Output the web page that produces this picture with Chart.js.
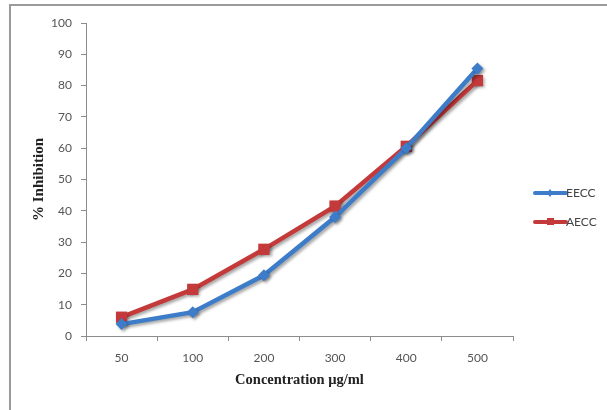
<!DOCTYPE html>
<html>
<head>
<meta charset="utf-8">
<script src="https://cdn.jsdelivr.net/npm/chart.js@4"></script>
<style>
html,body{margin:0;padding:0;background:#fff;}
#wrap{position:relative;width:607px;height:410px;}
</style>
</head>
<body>
<div id="wrap"><canvas id="c" width="607" height="410"></canvas></div>
<script>
const categories = ['50', '100', '200', '300', '400', '500'];
const seriesNames = ['EECC', 'AECC'];
const eeccValues = [3.8, 7.6, 19.4, 38.0, 60.0, 85.5];
const aeccValues = [6.0, 14.9, 27.7, 41.5, 60.6, 81.6];
const yTicks = [0, 10, 20, 30, 40, 50, 60, 70, 80, 90, 100];
const xTitle = 'Concentration µg/ml';
const yTitle = '% Inhibition';

const colors = ['#3d7cc9', '#c4393a'];

const shadowPlugin = {
  id: 'shadow',
  beforeDatasetsDraw(chart) {
    const ctx = chart.ctx;
    ctx.save();
    ctx.shadowColor = 'rgba(0,0,0,0.35)';
    ctx.shadowBlur = 3;
    ctx.shadowOffsetX = 2;
    ctx.shadowOffsetY = 2;
  },
  afterDatasetsDraw(chart) {
    chart.ctx.restore();
  }
};

const framePlugin = {
  id: 'frame',
  beforeDraw(chart) {
    const ctx = chart.ctx;
    ctx.save();
    ctx.fillStyle = '#fff';
    ctx.fillRect(0, 0, chart.width, chart.height);
    ctx.strokeStyle = '#9a9a9a';
    ctx.lineWidth = 2;
    ctx.beginPath();
    ctx.moveTo(10, 420);
    ctx.lineTo(10, 5);
    ctx.lineTo(620, 5);
    ctx.stroke();
    ctx.restore();
  }
};

const legendPlugin = {
  id: 'customLegend',
  afterDraw(chart) {
    const ctx = chart.ctx;
    ctx.save();
    chart.data.datasets.forEach((ds, i) => {
      const y = 193 + i * 29;
      ctx.strokeStyle = ds.borderColor;
      ctx.lineWidth = 4;
      ctx.lineCap = 'round';
      ctx.beginPath();
      ctx.moveTo(535, y);
      ctx.lineTo(566, y);
      ctx.stroke();
      ctx.fillStyle = ds.borderColor;
      if (i === 0) {
        ctx.beginPath();
        ctx.moveTo(550, y - 4);
        ctx.lineTo(553, y);
        ctx.lineTo(550, y + 4);
        ctx.lineTo(547, y);
        ctx.closePath();
        ctx.fill();
      } else {
        ctx.fillRect(547, y - 4, 7, 7);
      }
      ctx.fillStyle = '#444';
      ctx.font = '12px Lato';
      ctx.textBaseline = 'middle';
      ctx.textAlign = 'left';
      ctx.fillText(ds.label, 566, y + 0.5);
    });
    ctx.restore();
  }
};

new Chart(document.getElementById('c'), {
  type: 'line',
  data: {
    labels: categories,
    datasets: [
      {
        label: seriesNames[0],
        data: eeccValues,
        borderColor: colors[0],
        backgroundColor: colors[0],
        borderWidth: 4.5,
        pointStyle: 'rectRot',
        pointRadius: 6,
        pointBorderWidth: 0,
        tension: 0,
        fill: false
      },
      {
        label: seriesNames[1],
        data: aeccValues,
        borderColor: colors[1],
        backgroundColor: colors[1],
        borderWidth: 4.5,
        pointStyle: 'rect',
        pointRadius: 8,
        pointBorderWidth: 0,
        tension: 0,
        fill: false
      }
    ]
  },
  options: {
    responsive: false,
    animation: false,
    layout: { padding: { left: 0, right: 94, top: 23, bottom: 0 } },
    plugins: {
      legend: { display: false },
      tooltip: { enabled: false }
    },
    scales: {
      x: {
        offset: true,
        grid: { offset: true, drawOnChartArea: false, drawTicks: true, tickLength: 5, color: '#8c8c8c' },
        border: { color: '#8c8c8c', width: 1 },
        ticks: { font: { family: 'Lato', size: 12 }, color: '#555', padding: 10, maxRotation: 0 },
        title: {
          display: true, text: xTitle,
          font: { family: 'Liberation Serif', size: 14.5, weight: 'bold' }, color: '#222',
          padding: { top: 0, bottom: 21 }
        },
        afterFit(scale) { scale.height = 74; }
      },
      y: {
        min: 0, max: 100,
        afterBuildTicks(scale) { scale.ticks = yTicks.map(v => ({ value: v })); },
        grid: { drawOnChartArea: false, drawTicks: true, tickLength: 5, color: '#8c8c8c' },
        border: { color: '#8c8c8c', width: 1 },
        ticks: { font: { family: 'Lato', size: 12 }, color: '#555', padding: 9 },
        title: {
          display: true, text: yTitle,
          font: { family: 'Liberation Serif', size: 15, weight: 'bold' }, color: '#222',
          padding: { top: 30, bottom: 0 }
        },
        afterFit(scale) { scale.width = 86; }
      }
    }
  },
  plugins: [framePlugin, shadowPlugin, legendPlugin]
});
</script>
</body>
</html>
